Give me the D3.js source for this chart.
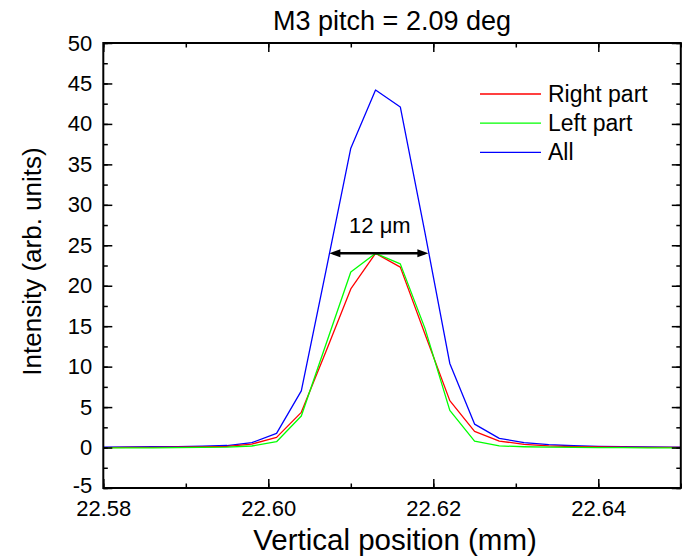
<!DOCTYPE html>
<html>
<head>
<meta charset="utf-8">
<script src="https://cdn.jsdelivr.net/npm/d3@7"></script>
<style>
  html, body { margin: 0; padding: 0; background: #fff; }
  svg { display: block; font-family: "Liberation Sans", Arial, sans-serif; }
</style>
</head>
<body>
<svg id="chart" width="682" height="557"></svg>
<script>
// Vertical scan positions (mm)
const positions = [22.580, 22.583, 22.586, 22.589, 22.592, 22.595, 22.598, 22.601, 22.604,
  22.607, 22.610, 22.613, 22.616, 22.619, 22.622, 22.625, 22.628, 22.631, 22.634, 22.637,
  22.640, 22.643, 22.646, 22.649, 22.652];

// Intensities (arb. units) for each detector region
const rightPart = [0.00, 0.02, 0.03, 0.05, 0.08, 0.15, 0.43, 1.26, 4.35, 11.9, 19.6, 24.0,
  22.3, 14.0, 5.8, 2.0, 0.8, 0.4, 0.2, 0.12, 0.08, 0.05, 0.03, 0.02, 0.02];
const leftPart = [-0.05, -0.05, -0.03, 0.00, 0.02, 0.06, 0.19, 0.72, 3.9, 12.8, 21.7, 24.0,
  22.7, 14.7, 4.6, 0.8, 0.2, 0.1, 0.05, 0.02, 0.00, -0.02, -0.03, -0.05, -0.05];
const allParts = [0.05, 0.08, 0.10, 0.12, 0.16, 0.25, 0.6, 1.75, 7.0, 21.9, 37.0, 44.2,
  42.1, 26.5, 10.4, 2.9, 1.14, 0.6, 0.35, 0.22, 0.15, 0.1, 0.08, 0.05, 0.05];

const seriesNames = ["Right part", "Left part", "All"];
const seriesColors = ["#ff0000", "#00ff00", "#0000ff"];
const seriesValues = [rightPart, leftPart, allParts];

const xTicks = [22.58, 22.60, 22.62, 22.64];
const yTicks = [-5, 0, 5, 10, 15, 20, 25, 30, 35, 40, 45, 50];

// FWHM marker: 12 µm wide at half height
const fwhmStart = 22.6074, fwhmEnd = 22.6194, fwhmLevel = 24;
const fwhmLabel = "12 \u03bcm";

const titleText = "M3 pitch = 2.09 deg";
const xTitle = "Vertical position (mm)";
const yTitle = "Intensity (arb. units)";

const svg = d3.select("#chart");
const margin = { left: 103.3, right: 1.2, top: 43, bottom: 69 };
const W = 682, H = 557;

const x = d3.scaleLinear().domain([22.58, 22.65]).range([margin.left, W - margin.right]);
const y = d3.scaleLinear().domain([-5, 50]).range([H - margin.bottom, margin.top]);

const defs = svg.append("defs");
defs.append("clipPath").attr("id", "plotclip")
  .append("rect")
  .attr("x", x.range()[0]).attr("y", y.range()[1])
  .attr("width", x.range()[1] - x.range()[0])
  .attr("height", y.range()[0] - y.range()[1]);

// Data lines
const line = d3.line().x((d, i) => x(positions[i])).y(d => y(d));
const plot = svg.append("g").attr("clip-path", "url(#plotclip)");
// draw "All" first so the parts sit on top in the wings
[2, 0, 1].forEach(k => {
  plot.append("path")
    .datum(seriesValues[k])
    .attr("d", line)
    .attr("fill", "none")
    .attr("stroke", seriesColors[k])
    .attr("stroke-width", 1.3)
    .attr("stroke-linejoin", "round");
});

// Axes: ticks point inward, mirrored on top and right
const tickFont = 22;
const majorLen = 9, minorLen = 4.5;
const xMinor = d3.range(22.58, 22.6501, 0.01).map(v => +v.toFixed(3));
const yMinor = d3.range(-5, 50.01, 2.5);

function styleAxis(g) {
  g.select(".domain").remove();
  g.selectAll("line").attr("stroke", "#000").attr("stroke-width", 1.5);
  g.selectAll("text").attr("font-size", tickFont).attr("fill", "#000")
    .attr("font-family", "Liberation Sans, Arial, sans-serif");
}

const bottomY = y.range()[0], topY = y.range()[1];
const leftX = x.range()[0], rightX = x.range()[1];

// bottom
svg.append("g").attr("transform", `translate(0,${bottomY})`)
  .call(d3.axisBottom(x).tickValues(xMinor).tickSize(-minorLen).tickFormat(""))
  .call(styleAxis);
svg.append("g").attr("transform", `translate(0,${bottomY})`)
  .call(d3.axisBottom(x).tickValues(xTicks).tickSize(-majorLen).tickPadding(12)
    .tickFormat(d3.format(".2f")))
  .call(styleAxis);
// top
svg.append("g").attr("transform", `translate(0,${topY})`)
  .call(d3.axisTop(x).tickValues(xMinor).tickSize(-minorLen).tickFormat(""))
  .call(styleAxis);
svg.append("g").attr("transform", `translate(0,${topY})`)
  .call(d3.axisTop(x).tickValues(xTicks).tickSize(-majorLen).tickFormat(""))
  .call(styleAxis);
// left (plain hyphen for the negative label)
svg.append("g").attr("transform", `translate(${leftX},0)`)
  .call(d3.axisLeft(y).tickValues(yMinor).tickSize(-minorLen).tickFormat(""))
  .call(styleAxis);
const yLeft = svg.append("g").attr("transform", `translate(${leftX},0)`)
  .call(d3.axisLeft(y).tickValues(yTicks).tickSize(-majorLen).tickPadding(11)
    .tickFormat(d => String(d)))
  .call(styleAxis);
// lift the lowest label slightly so it clears the x tick labels
yLeft.selectAll(".tick").filter(d => d === -5).select("text").attr("dy", "0.22em");
// right
svg.append("g").attr("transform", `translate(${rightX},0)`)
  .call(d3.axisRight(y).tickValues(yMinor).tickSize(-minorLen).tickFormat(""))
  .call(styleAxis);
svg.append("g").attr("transform", `translate(${rightX},0)`)
  .call(d3.axisRight(y).tickValues(yTicks).tickSize(-majorLen).tickFormat(""))
  .call(styleAxis);

// frame
svg.append("rect")
  .attr("x", leftX).attr("y", topY)
  .attr("width", rightX - leftX).attr("height", bottomY - topY)
  .attr("fill", "none").attr("stroke", "#000").attr("stroke-width", 2);

// Titles
svg.append("text")
  .attr("x", (leftX + rightX) / 2).attr("y", 30)
  .attr("text-anchor", "middle").attr("font-size", 27)
  .text(titleText);
svg.append("text")
  .attr("x", (leftX + rightX) / 2 + 3).attr("y", 550)
  .attr("text-anchor", "middle").attr("font-size", 29.5)
  .text(xTitle);
svg.append("text")
  .attr("transform", `translate(41,${(topY + bottomY) / 2 - 4}) rotate(-90)`)
  .attr("text-anchor", "middle").attr("font-size", 26)
  .text(yTitle);

// FWHM arrow
const arrowLen = 11, arrowHalf = 4;
const ay = y(fwhmLevel), ax1 = x(fwhmStart), ax2 = x(fwhmEnd);
svg.append("line")
  .attr("x1", ax1 + 4).attr("x2", ax2 - 4).attr("y1", ay).attr("y2", ay)
  .attr("stroke", "#000").attr("stroke-width", 2.5);
svg.append("path")
  .attr("d", `M${ax1},${ay} L${ax1 + arrowLen},${ay - arrowHalf} L${ax1 + arrowLen},${ay + arrowHalf} Z`)
  .attr("fill", "#000");
svg.append("path")
  .attr("d", `M${ax2},${ay} L${ax2 - arrowLen},${ay - arrowHalf} L${ax2 - arrowLen},${ay + arrowHalf} Z`)
  .attr("fill", "#000");
svg.append("text")
  .attr("x", (ax1 + ax2) / 2 + 1).attr("y", ay - 20)
  .attr("text-anchor", "middle").attr("font-size", 22)
  .text(fwhmLabel);

// Legend
const legend = svg.append("g");
seriesNames.forEach((name, i) => {
  const ly = 94 + i * 29.2;
  legend.append("line")
    .attr("x1", 480).attr("x2", 541).attr("y1", ly).attr("y2", ly)
    .attr("stroke", seriesColors[i]).attr("stroke-width", 1.3);
  legend.append("text")
    .attr("x", 548).attr("y", ly + 8)
    .attr("font-size", 23)
    .text(name);
});
</script>
</body>
</html>
